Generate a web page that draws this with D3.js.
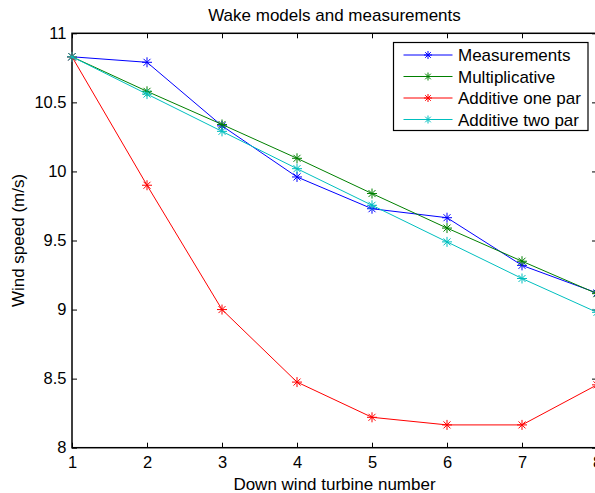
<!DOCTYPE html>
<html>
<head>
<meta charset="utf-8">
<script src="https://cdn.jsdelivr.net/npm/d3@7"></script>
<style>
  body { margin: 0; background: #fff; }
  svg { display: block; font-family: "Liberation Sans", Arial, sans-serif; }
</style>
</head>
<body>
<div id="chart"></div>
<script>
// turbine index along the row
const turbines = [1, 2, 3, 4, 5, 6, 7, 8];

// wind speed values (m/s)
const measurements = [10.83, 10.79, 10.33, 9.96, 9.73, 9.665, 9.32, 9.12];
const multiplicative = [10.83, 10.58, 10.34, 10.095, 9.84, 9.59, 9.35, 9.115];
const additiveOnePar = [10.83, 9.90, 9.00, 8.475, 8.22, 8.165, 8.165, 8.455];
const additiveTwoPar = [10.83, 10.56, 10.29, 10.02, 9.755, 9.49, 9.225, 8.98];

const seriesNames = ['Measurements', 'Multiplicative', 'Additive one par', 'Additive two par'];
const seriesColors = ['#0000ff', '#008000', '#ff0000', '#00bfbf'];

const xTicks = [1, 2, 3, 4, 5, 6, 7, 8];
const yTicks = [8, 8.5, 9, 9.5, 10, 10.5, 11];

let series = [measurements, multiplicative, additiveOnePar, additiveTwoPar].map((vals, i) => ({
  name: seriesNames[i],
  color: seriesColors[i],
  values: vals.map((v, j) => ({ x: turbines[j], y: v }))
}));

// margins - the plot runs a little past the right edge of the window, like the original
let margin = { top: 33.3, right: -2, bottom: 45.3, left: 72 };
let width = 595 - margin.left - margin.right;
let height = 493 - margin.top - margin.bottom;

const xScale = d3.scaleLinear().domain([1, 8]).range([0, width]);
const yScale = d3.scaleLinear().domain([8, 11]).range([height, 0]);

let svg = d3.select('#chart').append('svg')
  .attr('width', 595)
  .attr('height', 493);

let g = svg.append('g')
  .attr('transform', 'translate(' + margin.left + ',' + margin.top + ')');

const tickLen = 5;
const tickFont = 16.5;

// inward ticks on all four sides (matlab style)
g.append('g')
  .attr('transform', 'translate(0,' + height + ')')
  .call(d3.axisBottom(xScale).tickValues(xTicks).tickSizeInner(-tickLen).tickSizeOuter(0).tickPadding(8.5).tickFormat(d3.format('d')))
  .call(a => a.select('.domain').remove())
  .call(a => a.selectAll('text').attr('font-size', tickFont).attr('fill', '#000').attr('font-family', '"Liberation Sans", Arial, sans-serif'));

g.append('g')
  .call(d3.axisTop(xScale).tickValues(xTicks).tickSizeInner(-tickLen).tickSizeOuter(0).tickFormat(''))
  .call(a => a.select('.domain').remove());

g.append('g')
  .call(d3.axisLeft(yScale).tickValues(yTicks).tickSizeInner(-tickLen).tickSizeOuter(0).tickPadding(5.5).tickFormat(d3.format('')))
  .call(a => a.select('.domain').remove())
  .call(a => a.selectAll('text').attr('font-size', tickFont).attr('fill', '#000').attr('font-family', '"Liberation Sans", Arial, sans-serif'));

g.append('g')
  .attr('transform', 'translate(' + width + ',0)')
  .call(d3.axisRight(yScale).tickValues(yTicks).tickSizeInner(-tickLen).tickSizeOuter(0).tickFormat(''))
  .call(a => a.select('.domain').remove());

// the axes box
g.append('rect')
  .attr('x', 0).attr('y', 0)
  .attr('width', width).attr('height', height)
  .attr('fill', 'none')
  .attr('stroke', '#000')
  .attr('stroke-width', 1.5);

let line = d3.line()
  .x(d => xScale(d.x))
  .y(d => yScale(d.y));

// asterisk marker: plus + cross
function star(sel, color, r) {
  sel.append('path')
    .attr('d', 'M' + (-r) + ',0H' + r + 'M0,' + (-r) + 'V' + r +
      'M' + (-r * 0.7) + ',' + (-r * 0.7) + 'L' + (r * 0.7) + ',' + (r * 0.7) +
      'M' + (-r * 0.7) + ',' + (r * 0.7) + 'L' + (r * 0.7) + ',' + (-r * 0.7))
    .attr('stroke', color)
    .attr('stroke-width', 1)
    .attr('fill', 'none');
}

series.forEach(s => {
  g.append('path')
    .datum(s.values)
    .attr('fill', 'none')
    .attr('stroke', s.color)
    .attr('stroke-width', 1)
    .attr('d', line);

  g.selectAll(null)
    .data(s.values)
    .enter().append('g')
    .attr('transform', d => 'translate(' + xScale(d.x) + ',' + yScale(d.y) + ')')
    .each(function () { star(d3.select(this), s.color, 5); });
});

// title and axis labels
svg.append('text')
  .attr('x', margin.left + width / 2)
  .attr('y', 21)
  .attr('text-anchor', 'middle')
  .attr('font-size', 17)
  .text('Wake models and measurements');

svg.append('text')
  .attr('x', margin.left + width / 2)
  .attr('y', 490)
  .attr('text-anchor', 'middle')
  .attr('font-size', 17)
  .text('Down wind turbine number');

svg.append('text')
  .attr('transform', 'translate(24,' + (margin.top + height / 2) + ') rotate(-90)')
  .attr('text-anchor', 'middle')
  .attr('font-size', 17)
  .text('Wind speed (m/s)');

// legend
let legend = svg.append('g').attr('transform', 'translate(393.5,42.5)');
legend.append('rect')
  .attr('width', 194.5).attr('height', 88)
  .attr('fill', '#fff')
  .attr('stroke', '#000')
  .attr('stroke-width', 1.2);

series.forEach((s, i) => {
  let row = legend.append('g').attr('transform', 'translate(0,' + (12.5 + i * 21.5) + ')');
  row.append('line')
    .attr('x1', 10).attr('x2', 59)
    .attr('stroke', s.color).attr('stroke-width', 1);
  row.append('g').attr('transform', 'translate(34.5,0)')
    .each(function () { star(d3.select(this), s.color, 4); });
  row.append('text')
    .attr('x', 64.5)
    .attr('y', 6)
    .attr('font-size', 17)
    .text(s.name);
});
</script>
</body>
</html>
